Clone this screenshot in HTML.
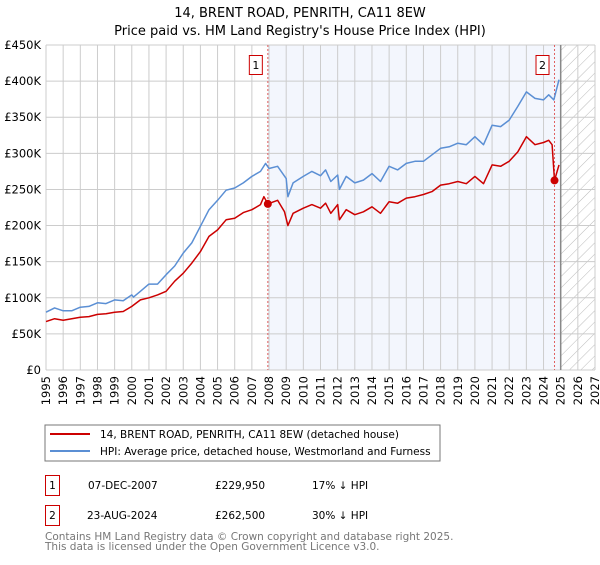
<!DOCTYPE html>
<html><head><meta charset="utf-8">
<style>
body{margin:0;background:#fff;font-family:"Liberation Sans","DejaVu Sans",sans-serif;}
svg text{font-family:"DejaVu Sans","Liberation Sans",sans-serif;}
</style></head>
<body>
<svg id="c" width="600" height="560" viewBox="0 0 600 560" xmlns="http://www.w3.org/2000/svg">
<defs>
<pattern id="hatch" width="8" height="8" patternUnits="userSpaceOnUse" patternTransform="rotate(45)">
<rect width="8" height="8" fill="#fff"/><line x1="0" y1="0" x2="0" y2="8" stroke="#bbb" stroke-width="1"/>
</pattern>
</defs>
<text x="300" y="17" text-anchor="middle" font-size="13" fill="#000">14, BRENT ROAD, PENRITH, CA11 8EW</text>
<text x="300" y="35" text-anchor="middle" font-size="13" fill="#000">Price paid vs. HM Land Registry's House Price Index (HPI)</text>
<g id="plot"></g>
<rect x="45" y="425" width="395" height="36" fill="#fff" stroke="#777"/>
<line x1="50" y1="434" x2="90" y2="434" stroke="#cc0000" stroke-width="2"/>
<text x="100" y="438" font-size="10.5">14, BRENT ROAD, PENRITH, CA11 8EW (detached house)</text>
<line x1="50" y1="451" x2="90" y2="451" stroke="#5b8fd4" stroke-width="2"/>
<text x="100" y="455" font-size="10.5">HPI: Average price, detached house, Westmorland and Furness</text>
<rect x="45.5" y="475.5" width="14" height="20" fill="#fff" stroke="#cc0000"/>
<text x="52.5" y="489" text-anchor="middle" font-size="10.5">1</text>
<text x="88" y="489" font-size="10.5">07-DEC-2007</text>
<text x="215" y="489" font-size="10.5">£229,950</text>
<text x="312" y="489" font-size="10.5">17% ↓ HPI</text>
<rect x="45.5" y="505.5" width="14" height="20" fill="#fff" stroke="#cc0000"/>
<text x="52.5" y="519" text-anchor="middle" font-size="10.5">2</text>
<text x="87" y="519" font-size="10.5">23-AUG-2024</text>
<text x="215" y="519" font-size="10.5">£262,500</text>
<text x="312" y="519" font-size="10.5">30% ↓ HPI</text>
<text x="45" y="540" font-size="10.5" fill="#777">Contains HM Land Registry data © Crown copyright and database right 2025.</text>
<text x="45" y="550" font-size="10.5" fill="#777">This data is licensed under the Open Government Licence v3.0.</text>
</svg>
<script>
const hpiT=[1995,1995.5,1996,1996.5,1997,1997.5,1998,1998.5,1999,1999.5,2000,2000.1,2000.5,2001,2001.5,2002,2002.5,2003,2003.5,2004,2004.5,2005,2005.5,2006,2006.5,2007,2007.5,2007.8,2008,2008.5,2009,2009.1,2009.4,2010,2010.5,2011,2011.3,2011.6,2012,2012.1,2012.5,2013,2013.5,2014,2014.5,2015,2015.5,2016,2016.5,2017,2017.5,2018,2018.5,2019,2019.5,2020,2020.5,2021,2021.5,2022,2022.5,2023,2023.5,2024,2024.3,2024.6,2024.9];
const hpiV=[80,86,82,82,87,88,93,92,97,96,104,101,109,119,119,132,144,162,176,199,222,235,249,252,259,268,275,286,279,282,265,240,259,268,275,269,277,261,270,250,268,259,263,272,261,282,277,286,289,289,298,307,309,314,312,323,312,339,337,346,365,385,376,374,381,374,402];
const ppT=[1995,1995.5,1996,1997,1997.5,1998,1998.5,1999,1999.5,2000,2000.5,2001,2001.5,2002,2002.5,2003,2003.5,2004,2004.5,2005,2005.5,2006,2006.5,2007,2007.5,2007.7,2007.93,2008.5,2008.9,2009.1,2009.4,2010,2010.5,2011,2011.3,2011.6,2012,2012.1,2012.5,2013,2013.5,2014,2014.5,2015,2015.5,2016,2016.5,2017,2017.5,2018,2018.5,2019,2019.5,2020,2020.5,2021,2021.5,2022,2022.5,2023,2023.5,2024,2024.3,2024.5,2024.64,2024.9];
const ppV=[67,71,69,73,74,77,78,80,81,88,97,100,104,109,123,134,148,164,185,194,208,210,218,222,229,240,230,235,219,200,217,224,229,224,231,217,229,208,222,215,219,226,217,233,231,238,240,243,247,256,258,261,258,268,258,284,282,289,302,323,312,315,318,312,262.5,284];
const saleT=[2007.93,2024.64];
const saleV=[229.95,262.5];
const saleLabels=["1","2"];
const yTicks=[0,50,100,150,200,250,300,350,400,450];
const yLabels=["£0","£50K","£100K","£150K","£200K","£250K","£300K","£350K","£400K","£450K"];
const xStart=1995,xEnd=2027;

const L=46,R=595,T=45,B=370;
const X=t=>L+(t-xStart)/(xEnd-xStart)*(R-L);
const Y=v=>B-v/450*(B-T);
const NS="http://www.w3.org/2000/svg";
const g=document.getElementById('plot');
function mk(tag,attrs,parent){const e=document.createElementNS(NS,tag);for(const k in attrs)e.setAttribute(k,attrs[k]);(parent||g).appendChild(e);return e;}

mk('rect',{x:L,y:T,width:R-L,height:B-T,fill:'#fff'});
const shade=mk('rect',{x:X(saleT[0]),y:T,width:X(2025)-X(saleT[0]),height:B-T,fill:'#f3f6fd'});


const hatch=mk('rect',{x:X(2025),y:T,width:R-X(2025),height:B-T,fill:'url(#hatch)'});


for(let yr=xStart;yr<=xEnd;yr++){
  const gl=mk('line',{x1:X(yr),x2:X(yr),y1:T,y2:B,stroke:'#ccc','stroke-width':1});
  
  
  const tx=mk('text',{x:0,y:0,'font-size':11.5,'text-anchor':'end',transform:`translate(${X(yr)+4},${B+6}) rotate(-90)`});
  tx.textContent=yr;
  
  
}
yTicks.forEach((v,i)=>{
  const gl=mk('line',{x1:L,x2:R,y1:Y(v),y2:Y(v),stroke:'#ccc','stroke-width':1});
  
  
  const tx=mk('text',{x:L-5,y:Y(v)+4,'font-size':11.5,'text-anchor':'end'});
  tx.textContent=yLabels[i];
  
  
});
mk('line',{x1:X(2025),x2:X(2025),y1:T,y2:B,stroke:'#888','stroke-width':1.5});
function path(ts,vs,col,name){
  const d=ts.map((t,i)=>(i?'L':'M')+X(t).toFixed(1)+','+Y(vs[i]).toFixed(1)).join('');
  const p=mk('path',{d:d,fill:'none',stroke:col,'stroke-width':1.5,'stroke-linejoin':'round'});
  
  
}
saleT.forEach((t,i)=>{
  const l=mk('line',{x1:X(t),x2:X(t),y1:T,y2:B,stroke:'#e06060','stroke-width':1,'stroke-dasharray':'2,2'});
  
  
});
path(hpiT,hpiV,'#5b8fd4','hpi-line');
path(ppT,ppV,'#cc0000','property-price-line');
saleT.forEach((t,i)=>{
  const c=mk('circle',{cx:X(t),cy:Y(saleV[i]),r:4,fill:'#cc0000'});
  
  
  const bx=mk('rect',{x:X(t)-18.5,y:55.5,width:13,height:19,fill:'#fff',stroke:'#cc0000'});
  
  
  const tx=mk('text',{x:X(t)-12,y:69,'font-size':11,'text-anchor':'middle'});
  tx.textContent=saleLabels[i];
  
  
});
</script>
</body></html>
